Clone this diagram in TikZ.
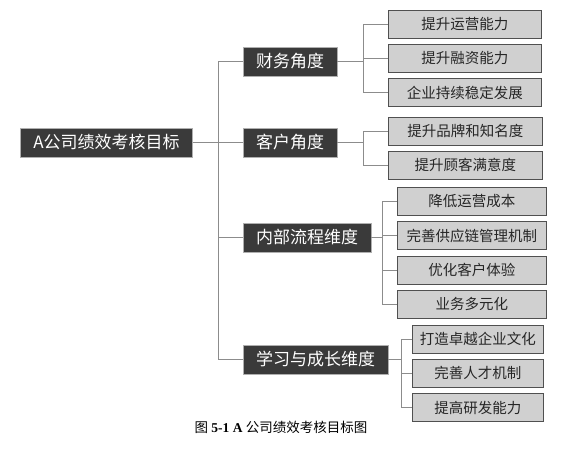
\documentclass[tikz,border=0pt]{standalone}
\usepackage{fontspec}
\setmainfont{Liberation Serif}
\newfontfamily\cjk{Noto Sans CJK SC}
\usetikzlibrary{positioning,calc}
\definecolor{hei}{HTML}{3A3A3A}
\definecolor{hui}{HTML}{D0D0D0}
\definecolor{bian}{HTML}{505050}
\definecolor{xianse}{HTML}{8C8C8C}

\begin{document}
\begin{tikzpicture}[
  x=1pt, y=-1pt,
  node distance=5.5pt,
  zong/.style={fill=hei, draw=xianse!70, text=white, font=\cjk\fontsize{17}{17}\selectfont, inner xsep=13pt, minimum height=29pt},
  weidu/.style={zong},
  zhibiao/.style={fill=hui, draw=bian, line width=0.8pt, text=black!85, font=\cjk\fontsize{14.5}{14.5}\selectfont, minimum height=28pt},
  xian/.style={draw=xianse, line width=0.8pt}
]
\useasboundingbox (0,0) rectangle (576,455);

\node[zong] (zong) at (106.5,142.5) {A公司绩效考核目标};

\node[weidu, anchor=west] (caiwu) at (243,61.5) {财务角度};
\node[weidu, anchor=west] (kehu) at (243,142.5) {客户角度};
\node[weidu, anchor=west] (liucheng) at (243,237.5) {内部流程维度};
\node[weidu, anchor=west] (xuexi) at (243,359.5) {学习与成长维度};

% 财务
\node[zhibiao, minimum width=153pt, anchor=west] (caiwu1) at (388,24) {提升运营能力};
\node[zhibiao, minimum width=153pt, below=of caiwu1] (caiwu2) {提升融资能力};
\node[zhibiao, minimum width=153pt, below=of caiwu2] (caiwu3) {企业持续稳定发展};

% 客户
\node[zhibiao, minimum width=154pt, anchor=west] (kehu1) at (388,131) {提升品牌和知名度};
\node[zhibiao, minimum width=154pt, below=of kehu1] (kehu2) {提升顾客满意度};

% 内部流程
\node[zhibiao, minimum width=149pt, anchor=west] (liucheng1) at (397,201.5) {降低运营成本};
\node[zhibiao, minimum width=149pt, below=of liucheng1] (liucheng2) {完善供应链管理机制};
\node[zhibiao, minimum width=149pt, below=of liucheng2] (liucheng3) {优化客户体验};
\node[zhibiao, minimum width=149pt, below=of liucheng3] (liucheng4) {业务多元化};

% 学习与成长
\node[zhibiao, minimum width=131pt, anchor=west] (xuexi1) at (412,339) {打造卓越企业文化};
\node[zhibiao, minimum width=131pt, below=of xuexi1] (xuexi2) {完善人才机制};
\node[zhibiao, minimum width=131pt, below=of xuexi2] (xuexi3) {提高研发能力};

\node[font=\fontsize{13.5}{13.5}\selectfont] (tuming) at (281,427) {{\cjk 图} \textbf{5-1 A} {\cjk 公司绩效考核目标图}};

% 主干
\coordinate (gan) at (218,142.5);
\draw[xian] (zong) -- (gan);
\foreach \w in {caiwu,kehu,liucheng,xuexi}
  \draw[xian] (gan) |- (\w);

% 分支
\coordinate (f1) at (363,61.5);
\coordinate (f2) at (363,142.5);
\coordinate (f3) at (382,237.5);
\coordinate (f4) at (401,359.5);
\draw[xian] (caiwu) -- (f1);
\draw[xian] (kehu) -- (f2);
\draw[xian] (liucheng) -- (f3);
\draw[xian] (xuexi) -- (f4);
\foreach \i in {1,2,3}
  \draw[xian] (f1) |- (caiwu\i);
\foreach \i in {1,2}
  \draw[xian] (f2) |- (kehu\i);
\foreach \i in {1,2,3,4}
  \draw[xian] (f3) |- (liucheng\i);
\foreach \i in {1,2,3}
  \draw[xian] (f4) |- (xuexi\i);
\end{tikzpicture}
\end{document}
